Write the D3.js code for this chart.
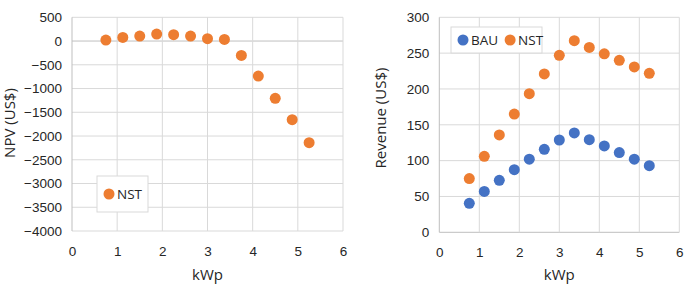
<!DOCTYPE html>
<html>
<head>
<meta charset="utf-8">
<script src="https://cdn.jsdelivr.net/npm/d3@7"></script>
<style>
  body { margin: 0; background: #fff; }
  svg { display: block; font-family: "Open Sans", "Liberation Sans", sans-serif; }
</style>
</head>
<body>
<div id="chart"></div>
<script>
// kWp sizes shared by both panels
const kwp = [0.75, 1.125, 1.5, 1.875, 2.25, 2.625, 3, 3.375, 3.75, 4.125, 4.5, 4.875, 5.25];
const npvNST = [20, 77, 105, 147, 133, 105, 49, 35, -302, -737, -1207, -1656, -2140];
const revBAU = [40.5, 57, 72.6, 87.4, 102, 115.8, 128.8, 138.6, 129.3, 120.5, 111.2, 102, 93];
const revNST = [75, 106, 135.8, 165, 193.5, 221, 247, 267.4, 258, 249, 240, 230.7, 221.9];
const xTicks = [0, 1, 2, 3, 4, 5, 6];
const npvTicks = [500, 0, -500, -1000, -1500, -2000, -2500, -3000, -3500, -4000];
const revTicks = [0, 50, 100, 150, 200, 250, 300];

const orange = "#ED7D31";
const blue = "#4472C4";
const gridColor = "#D9D9D9";
const axisColor = "#BFBFBF";
const textColor = "#262626";

const svg = d3.select("#chart").append("svg")
    .attr("width", 685)
    .attr("height", 284);

function panel(cfg) {
    const x = d3.scaleLinear().domain([0, 6]).range([cfg.left, cfg.right]);
    const y = d3.scaleLinear().domain(cfg.yDomain).range([cfg.bottom, cfg.top]);
    const g = svg.append("g");

    // gridlines
    g.append("g").selectAll("line")
        .data(cfg.yTicks)
        .join("line")
        .attr("x1", cfg.left).attr("x2", cfg.right)
        .attr("y1", d => y(d)).attr("y2", d => y(d))
        .attr("stroke", d => d === cfg.xAxisAt ? axisColor : gridColor)
        .attr("stroke-width", 1);
    g.append("g").selectAll("line")
        .data(xTicks)
        .join("line")
        .attr("x1", d => x(d)).attr("x2", d => x(d))
        .attr("y1", cfg.top).attr("y2", cfg.bottom)
        .attr("stroke", d => d === 0 ? axisColor : gridColor)
        .attr("stroke-width", 1);

    // y tick labels
    g.append("g")
        .attr("transform", `translate(${cfg.left},0)`)
        .call(d3.axisLeft(y).tickValues(cfg.yTicks).tickSize(0).tickPadding(10).tickFormat(d3.format("d")))
        .call(a => a.select(".domain").remove())
        .selectAll("text").style("font-size", "13.5px").attr("fill", textColor);

    // x tick labels, always at the bottom
    g.append("g")
        .attr("transform", `translate(0,${cfg.bottom})`)
        .call(d3.axisBottom(x).tickValues(xTicks).tickSize(0).tickPadding(15).tickFormat(d3.format("d")))
        .call(a => a.select(".domain").remove())
        .selectAll("text").style("font-size", "13.5px").attr("fill", textColor);

    // titles
    g.append("text")
        .attr("x", (cfg.left + cfg.right) / 2)
        .attr("y", 280)
        .attr("text-anchor", "middle")
        .attr("font-size", 15)
        .attr("fill", textColor)
        .text("kWp");
    g.append("text")
        .attr("transform", `translate(${cfg.yTitleX},${cfg.yTitleY}) rotate(-90)`)
        .attr("text-anchor", "middle")
        .attr("font-size", 15)
        .attr("fill", textColor)
        .text(cfg.yTitle);

    // points
    cfg.series.forEach(s => {
        g.append("g").selectAll("circle")
            .data(s.values)
            .join("circle")
            .attr("cx", (d, i) => x(kwp[i]))
            .attr("cy", d => y(d))
            .attr("r", 5.5)
            .attr("fill", s.color);
    });

    // legend
    const lg = g.append("g").attr("transform", `translate(${cfg.legend.x},${cfg.legend.y})`);
    lg.append("rect")
        .attr("width", cfg.legend.w).attr("height", cfg.legend.h)
        .attr("fill", "#fff").attr("stroke", "#D9D9D9");
    let lx = 12;
    cfg.series.forEach(s => {
        lg.append("circle").attr("cx", lx).attr("cy", cfg.legend.h / 2).attr("r", 5.5).attr("fill", s.color);
        const t = lg.append("text")
            .attr("x", lx + 8).attr("y", cfg.legend.h / 2)
            .attr("dy", "0.35em")
            .attr("font-size", 13.5)
            .attr("fill", textColor)
            .text(s.name);
        lx += 8 + t.node().getComputedTextLength() + 12;
    });
}

panel({
    left: 72, right: 343, top: 17.3, bottom: 231,
    yDomain: [-4000, 500], yTicks: npvTicks, xAxisAt: 0,
    yTitle: "NPV (US$)", yTitleX: 15, yTitleY: 123,
    series: [{ name: "NST", values: npvNST, color: orange }],
    legend: { x: 97, y: 176, w: 51, h: 36 }
});

panel({
    left: 439.3, right: 679.3, top: 17.3, bottom: 232.3,
    yDomain: [0, 300], yTicks: revTicks, xAxisAt: 0,
    yTitle: "Revenue (US$)", yTitleX: 386, yTitleY: 118,
    series: [
        { name: "BAU", values: revBAU, color: blue },
        { name: "NST", values: revNST, color: orange }
    ],
    legend: { x: 451, y: 27, w: 91, h: 26 }
});
</script>
</body>
</html>
